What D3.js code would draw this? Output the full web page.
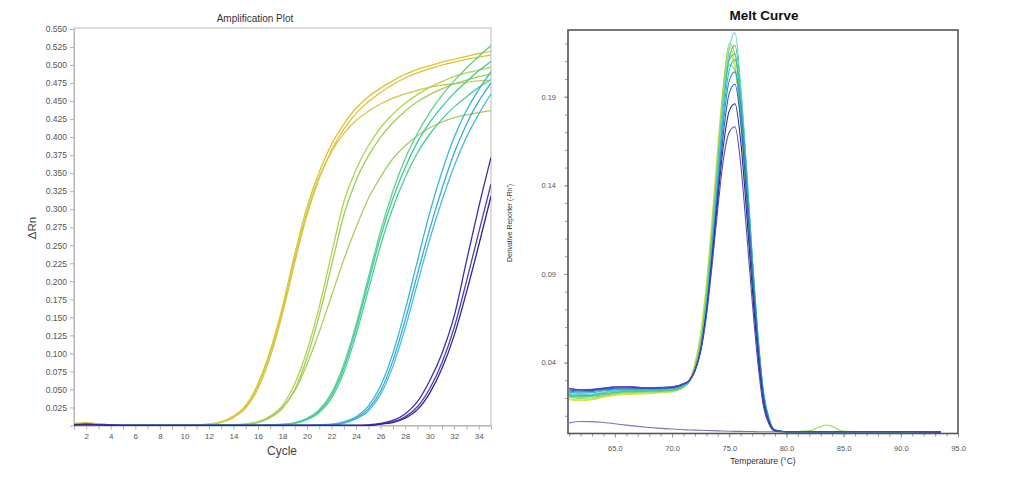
<!DOCTYPE html>
<html><head><meta charset="utf-8">
<script src="https://cdn.jsdelivr.net/npm/d3@7"></script>
<style>
body{margin:0;background:#fff;}
svg{display:block;font-family:"Liberation Sans",Arial,sans-serif;}
</style>
</head><body>
<svg id="chart" width="1014" height="483"></svg>
<script>
// ---------------- Amplification plot data ----------------
const cycles = [1,2,3,4,5,6,7,8,9,10,11,12,13,14,15,16,17,18,19,20,21,22,23,24,25,26,27,28,29,30,31,32,33,34,35];
const ampYTicks = [0.025,0.05,0.075,0.1,0.125,0.15,0.175,0.2,0.225,0.25,0.275,0.3,0.325,0.35,0.375,0.4,0.425,0.45,0.475,0.5,0.525,0.55];
const ampXLabels = [2,4,6,8,10,12,14,16,18,20,22,24,26,28,30,32,34];

const ampColors = ["#e2c12e","#dcc43a","#cfc94c","#b6d24a","#9ccf57","#a9cd5e","#5fd08c","#3cc8a2","#49cf90","#36b7d6","#3ea8d8","#48bfcf","#3b2fa6","#4b3fb6","#2c2590"];

const ampG1A = [0.003,0.004,0.002,0.001,0.001,0.001,0.001,0.001,0.000,0.000,0.001,0.002,0.005,0.013,0.028,0.058,0.104,0.165,0.238,0.303,0.352,0.390,0.418,0.440,0.456,0.468,0.478,0.487,0.494,0.499,0.504,0.508,0.512,0.516,0.519];
const ampG1B = [0.002,0.003,0.002,0.001,0.001,0.001,0.000,0.000,0.000,0.000,0.000,0.001,0.004,0.011,0.024,0.051,0.095,0.155,0.226,0.292,0.343,0.382,0.411,0.433,0.449,0.462,0.473,0.482,0.489,0.495,0.500,0.504,0.508,0.511,0.514];
const ampG1C = [0.002,0.002,0.002,0.001,0.001,0.000,0.000,0.000,0.000,0.000,0.001,0.002,0.005,0.012,0.026,0.055,0.100,0.160,0.232,0.296,0.345,0.380,0.405,0.423,0.436,0.446,0.454,0.460,0.465,0.469,0.472,0.474,0.476,0.478,0.479];
const ampG2A = [0.002,0.003,0.002,0.001,0.001,0.001,0.000,0.000,0.000,0.000,0.000,0.000,0.000,0.001,0.002,0.005,0.013,0.028,0.058,0.104,0.165,0.238,0.310,0.355,0.388,0.413,0.432,0.447,0.459,0.469,0.477,0.484,0.489,0.493,0.497];
const ampG2B = [0.001,0.002,0.002,0.001,0.001,0.000,0.000,0.000,0.000,0.000,0.000,0.000,0.000,0.000,0.001,0.004,0.011,0.024,0.050,0.094,0.153,0.222,0.292,0.340,0.374,0.400,0.420,0.436,0.449,0.459,0.467,0.474,0.479,0.484,0.487];
const ampG2C = [0.002,0.002,0.001,0.001,0.001,0.000,0.000,0.000,0.000,0.000,0.000,0.000,0.000,0.001,0.002,0.005,0.012,0.025,0.048,0.085,0.130,0.180,0.230,0.275,0.315,0.345,0.370,0.388,0.402,0.413,0.421,0.427,0.431,0.434,0.437];
const ampG3A = [0.002,0.002,0.001,0.001,0.001,0.000,0.000,0.000,0.000,0.000,0.000,0.000,0.000,0.000,0.000,0.000,0.001,0.002,0.004,0.010,0.022,0.045,0.085,0.140,0.205,0.270,0.325,0.370,0.405,0.434,0.458,0.478,0.496,0.512,0.527];
const ampG3B = [0.001,0.002,0.001,0.001,0.000,0.000,0.000,0.000,0.000,0.000,0.000,0.000,0.000,0.000,0.000,0.000,0.000,0.001,0.003,0.009,0.020,0.042,0.080,0.134,0.198,0.262,0.315,0.358,0.393,0.420,0.442,0.461,0.477,0.492,0.505];
const ampG3C = [0.001,0.001,0.001,0.001,0.000,0.000,0.000,0.000,0.000,0.000,0.000,0.000,0.000,0.000,0.000,0.000,0.000,0.001,0.003,0.008,0.018,0.038,0.074,0.126,0.188,0.250,0.302,0.344,0.378,0.404,0.425,0.442,0.456,0.469,0.480];
const ampG4A = [0.002,0.002,0.001,0.001,0.000,0.000,0.000,0.000,0.000,0.000,0.000,0.000,0.000,0.000,0.000,0.000,0.000,0.000,0.000,0.000,0.001,0.002,0.005,0.012,0.027,0.055,0.100,0.160,0.228,0.295,0.352,0.400,0.437,0.466,0.491];
const ampG4B = [0.001,0.002,0.001,0.001,0.000,0.000,0.000,0.000,0.000,0.000,0.000,0.000,0.000,0.000,0.000,0.000,0.000,0.000,0.000,0.000,0.000,0.001,0.004,0.010,0.023,0.048,0.090,0.146,0.210,0.272,0.328,0.378,0.418,0.450,0.475];
const ampG4C = [0.001,0.001,0.001,0.000,0.000,0.000,0.000,0.000,0.000,0.000,0.000,0.000,0.000,0.000,0.000,0.000,0.000,0.000,0.000,0.000,0.000,0.001,0.003,0.009,0.020,0.043,0.082,0.135,0.197,0.258,0.312,0.360,0.400,0.432,0.460];
const ampG5A = [0.001,0.002,0.001,0.001,0.000,0.000,0.000,0.000,0.000,0.000,0.000,0.000,0.000,0.000,0.000,0.000,0.000,0.000,0.000,0.000,0.000,0.000,0.000,0.000,0.001,0.003,0.007,0.016,0.033,0.062,0.100,0.152,0.228,0.303,0.372];
const ampG5B = [0.001,0.001,0.001,0.000,0.000,0.000,0.000,0.000,0.000,0.000,0.000,0.000,0.000,0.000,0.000,0.000,0.000,0.000,0.000,0.000,0.000,0.000,0.000,0.000,0.000,0.002,0.005,0.012,0.026,0.051,0.087,0.136,0.200,0.268,0.335];
const ampG5C = [0.001,0.001,0.001,0.000,0.000,0.000,0.000,0.000,0.000,0.000,0.000,0.000,0.000,0.000,0.000,0.000,0.000,0.000,0.000,0.000,0.000,0.000,0.000,0.000,0.000,0.002,0.004,0.010,0.022,0.045,0.079,0.125,0.185,0.250,0.318];
const ampSeries = [ampG1A,ampG1B,ampG1C,ampG2A,ampG2B,ampG2C,ampG3A,ampG3B,ampG3C,ampG4A,ampG4B,ampG4C,ampG5A,ampG5B,ampG5C];

// ---------------- Melt curve data ----------------
const meltTemps = [61,62,63,64,65,66,67,68,69,70,71,71.5,72,72.5,73,73.5,74,74.5,75,75.5,76,76.5,77,77.5,78,78.5,79,80,82,83,83.5,84,85,88,91,93.5];
const meltYTicks = [0.04,0.09,0.14,0.19];
const meltYMinor = [0.01,0.02,0.03,0.04,0.05,0.06,0.07,0.08,0.09,0.10,0.11,0.12,0.13,0.14,0.15,0.16,0.17,0.18,0.19,0.20,0.21,0.22];
const meltXTicks = [65,70,75,80,85,90,95];
const meltXMinor = [61,62,63,64,65,66,67,68,69,70,71,72,73,74,75,76,77,78,79,80,81,82,83,84,85,86,87,88,89,90,91,92,93,94,95];
const meltColors = ["#7b74b5","#e9d63c","#c6df4a","#98d957","#6bd06a","#3fca86","#2cc3a6","#62d6c6","#32b6d4","#3494d0","#2e5cc0","#1e2a94","#5b4bb0"];

const meltFlat = [0.0060,0.0068,0.0067,0.0062,0.0055,0.0047,0.0040,0.0034,0.0029,0.0025,0.0021,0.0020,0.0019,0.0018,0.0017,0.0016,0.0015,0.0014,0.0013,0.0012,0.0012,0.0011,0.0011,0.0010,0.0010,0.0010,0.0010,0.0009,0.0008,0.0008,0.0008,0.0008,0.0008,0.0007,0.0007,0.0007];
const meltC1 = [0.0190,0.0185,0.0190,0.0205,0.0215,0.0220,0.0222,0.0225,0.0230,0.0235,0.0260,0.0300,0.040,0.057,0.085,0.122,0.162,0.198,0.218,0.208,0.176,0.130,0.083,0.043,0.016,0.005,0.0015,0.001,0.001,0.001,0.001,0.001,0.001,0.001,0.001,0.0008];
const meltC2 = [0.0195,0.0190,0.0195,0.0210,0.0220,0.0225,0.0228,0.0230,0.0233,0.0238,0.0262,0.0295,0.039,0.055,0.082,0.118,0.158,0.194,0.214,0.207,0.177,0.132,0.086,0.045,0.017,0.005,0.0015,0.001,0.001,0.001,0.001,0.001,0.001,0.001,0.001,0.0008];
const meltC3 = [0.0205,0.0198,0.0202,0.0215,0.0225,0.0230,0.0232,0.0234,0.0236,0.0240,0.0262,0.0292,0.038,0.053,0.080,0.116,0.157,0.196,0.220,0.214,0.183,0.137,0.089,0.047,0.018,0.006,0.0018,0.001,0.0015,0.004,0.0048,0.004,0.0012,0.001,0.001,0.0008];
const meltC4 = [0.0210,0.0205,0.0210,0.0220,0.0230,0.0235,0.0237,0.0238,0.0240,0.0243,0.0265,0.0292,0.037,0.051,0.077,0.112,0.151,0.187,0.208,0.205,0.179,0.136,0.090,0.048,0.019,0.006,0.0018,0.001,0.001,0.001,0.001,0.001,0.001,0.001,0.001,0.0008];
const meltC5 = [0.0215,0.0210,0.0213,0.0225,0.0233,0.0238,0.0240,0.0240,0.0242,0.0245,0.0266,0.0292,0.0365,0.050,0.075,0.110,0.150,0.188,0.211,0.214,0.188,0.144,0.096,0.052,0.021,0.007,0.002,0.001,0.001,0.001,0.001,0.001,0.001,0.001,0.001,0.0008];
const meltC6 = [0.0220,0.0215,0.0218,0.0230,0.0238,0.0242,0.0243,0.0243,0.0245,0.0248,0.0268,0.0292,0.036,0.049,0.073,0.108,0.148,0.187,0.212,0.219,0.194,0.150,0.100,0.055,0.022,0.0075,0.002,0.001,0.001,0.001,0.001,0.001,0.001,0.001,0.001,0.0008];
const meltC7 = [0.0225,0.0220,0.0222,0.0233,0.0240,0.0244,0.0245,0.0245,0.0247,0.0250,0.0270,0.0293,0.036,0.049,0.073,0.108,0.149,0.190,0.217,0.226,0.196,0.151,0.101,0.056,0.023,0.008,0.002,0.001,0.001,0.001,0.001,0.001,0.001,0.001,0.001,0.0008];
const meltC8 = [0.0232,0.0228,0.0230,0.0240,0.0246,0.0249,0.0249,0.0249,0.0250,0.0253,0.0272,0.0294,0.0355,0.048,0.071,0.105,0.144,0.181,0.205,0.211,0.190,0.148,0.100,0.056,0.023,0.008,0.002,0.001,0.001,0.001,0.001,0.001,0.001,0.001,0.001,0.0008];
const meltC9 = [0.0238,0.0234,0.0236,0.0245,0.0251,0.0253,0.0252,0.0252,0.0253,0.0256,0.0275,0.0296,0.0355,0.0475,0.070,0.103,0.140,0.176,0.199,0.204,0.184,0.143,0.097,0.054,0.022,0.0075,0.002,0.001,0.001,0.001,0.001,0.001,0.001,0.001,0.001,0.0008];
const meltC10 = [0.0245,0.0240,0.0242,0.0250,0.0256,0.0258,0.0256,0.0255,0.0256,0.0259,0.0278,0.0298,0.0355,0.047,0.069,0.100,0.136,0.170,0.192,0.197,0.176,0.136,0.091,0.050,0.020,0.0065,0.0018,0.001,0.001,0.001,0.001,0.001,0.001,0.001,0.001,0.0008];
const meltC11 = [0.0252,0.0245,0.0247,0.0255,0.0262,0.0264,0.0260,0.0258,0.0259,0.0262,0.0280,0.0300,0.0355,0.047,0.068,0.098,0.132,0.163,0.182,0.186,0.165,0.126,0.083,0.045,0.017,0.0055,0.0015,0.001,0.001,0.001,0.001,0.001,0.001,0.001,0.001,0.0008];
const meltC12 = [0.0255,0.0248,0.0250,0.0257,0.0263,0.0265,0.0261,0.0259,0.0260,0.0263,0.0281,0.0300,0.0352,0.046,0.066,0.095,0.127,0.155,0.170,0.173,0.152,0.115,0.075,0.040,0.015,0.005,0.0014,0.001,0.001,0.001,0.001,0.001,0.001,0.001,0.001,0.0008];
const meltSeries = [meltFlat,meltC1,meltC2,meltC3,meltC4,meltC5,meltC6,meltC7,meltC8,meltC9,meltC10,meltC11,meltC12];

// ---------------- Drawing ----------------
const svg = d3.select("#chart");

// ===== Left: Amplification Plot =====
const ax = d3.scaleLinear().domain([1,35]).range([74,491]);
const ay = d3.scaleLinear().domain([0,0.55]).range([425.5,29]);

svg.append("text").attr("x",255).attr("y",22).attr("text-anchor","middle")
  .attr("font-size",10).attr("fill","#333").text("Amplification Plot");

svg.append("defs").append("clipPath").attr("id","clipA")
  .append("rect").attr("x",74).attr("y",28).attr("width",417).attr("height",398);

const gAy = svg.append("g").attr("transform","translate(74,0)")
  .call(d3.axisLeft(ay).tickValues(ampYTicks).tickSize(4).tickPadding(3).tickFormat(d3.format(".3f")));
const gAx = svg.append("g").attr("transform","translate(0,425.5)")
  .call(d3.axisBottom(ax).tickValues(cycles).tickSize(4).tickPadding(4)
    .tickFormat(d => ampXLabels.includes(d) ? d : ""));
[gAy,gAx].forEach(g=>{
  g.selectAll("path").attr("stroke","#b0b0b0");
  g.selectAll("line").attr("stroke","#b0b0b0");
  g.selectAll("text").attr("fill","#555").attr("font-size",8.5).attr("font-family","Liberation Sans, Arial, sans-serif");
});
gAx.selectAll("text").attr("font-size",8);

svg.append("rect").attr("x",74).attr("y",28).attr("width",417).attr("height",397.5)
  .attr("fill","none").attr("stroke","#b8b8b8").attr("stroke-width",1);

const ampLine = d3.line().x((d,i)=>ax(cycles[i])).y(d=>ay(d)).curve(d3.curveMonotoneX);
svg.append("g").attr("clip-path","url(#clipA)")
  .selectAll("path").data(ampSeries).join("path")
  .attr("d",ampLine).attr("fill","none")
  .attr("stroke",(d,i)=>ampColors[i]).attr("stroke-width",1.3);

svg.append("text").attr("x",282).attr("y",455).attr("text-anchor","middle")
  .attr("font-size",12).attr("fill","#444").text("Cycle");
svg.append("text").attr("transform","translate(36,228) rotate(-90)").attr("text-anchor","middle")
  .attr("font-size",11.5).attr("fill","#444").text("ΔRn");

// ===== Right: Melt Curve =====
const mx = d3.scaleLinear().domain([60.9,95]).range([568,958]);
const my = d3.scaleLinear().domain([0,0.2276]).range([433.5,30]);

svg.append("text").attr("x",764).attr("y",20).attr("text-anchor","middle")
  .attr("font-size",13.5).attr("font-weight","bold").attr("fill","#111").text("Melt Curve");

svg.append("defs").append("clipPath").attr("id","clipM")
  .append("rect").attr("x",568).attr("y",30).attr("width",390).attr("height",404);

const gMyMinor = svg.append("g").attr("transform","translate(568,0)")
  .call(d3.axisLeft(my).tickValues(meltYMinor).tickSize(3).tickFormat(""));
const gMy = svg.append("g").attr("transform","translate(568,0)")
  .call(d3.axisLeft(my).tickValues(meltYTicks).tickSize(4).tickPadding(8).tickFormat(d3.format(".2f")));
const gMxMinor = svg.append("g").attr("transform","translate(0,433.5)")
  .call(d3.axisBottom(mx).tickValues(meltXMinor).tickSize(3).tickFormat(""));
const gMx = svg.append("g").attr("transform","translate(0,433.5)")
  .call(d3.axisBottom(mx).tickValues(meltXTicks).tickSize(4).tickPadding(8).tickFormat(d3.format(".1f")));
[gMyMinor,gMy,gMxMinor,gMx].forEach(g=>{
  g.selectAll("path").attr("stroke","none");
  g.selectAll("line").attr("stroke","#9a9a9a");
  g.selectAll("text").attr("fill","#555").attr("font-size",7.5).attr("font-family","Liberation Sans, Arial, sans-serif");
});

const meltLine = d3.line().x((d,i)=>mx(meltTemps[i])).y(d=>my(d)).curve(d3.curveMonotoneX);
svg.append("g").attr("clip-path","url(#clipM)")
  .selectAll("path").data(meltSeries).join("path")
  .attr("d",meltLine).attr("fill","none")
  .attr("stroke",(d,i)=>meltColors[i]).attr("stroke-width",1.1);

svg.append("rect").attr("x",568).attr("y",30).attr("width",390).attr("height",403.5)
  .attr("fill","none").attr("stroke","#555").attr("stroke-width",1.6);

svg.append("text").attr("x",763).attr("y",464).attr("text-anchor","middle")
  .attr("font-size",8.5).attr("fill","#333").text("Temperature (°C)");
svg.append("text").attr("transform","translate(512,223) rotate(-90)").attr("text-anchor","middle")
  .attr("font-size",7.5).attr("fill","#333")
  .attr("textLength",78).attr("lengthAdjust","spacingAndGlyphs")
  .text("Derivative Reporter (-Rn')");
</script>
</body></html>
